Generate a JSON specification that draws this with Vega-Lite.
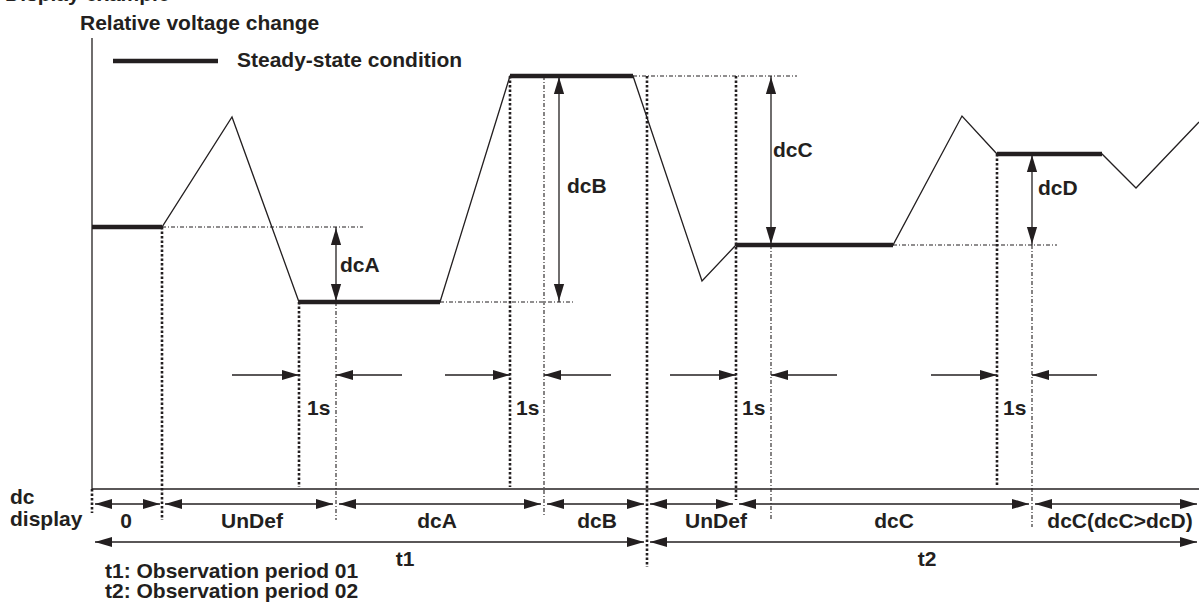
{
  "$schema": "https://vega.github.io/schema/vega-lite/v6.json",
  "width": 1199,
  "height": 605,
  "autosize": {"type": "none"},
  "padding": 0,
  "background": "white",
  "config": {"view": {"stroke": null}},
  "datasets": {
    "signal": [
      {"t": 92, "v": 227}, {"t": 162, "v": 227}, {"t": 232, "v": 117}, {"t": 299, "v": 302},
      {"t": 440, "v": 302}, {"t": 510, "v": 76}, {"t": 633, "v": 76}, {"t": 702, "v": 281},
      {"t": 736, "v": 245}, {"t": 893, "v": 245}, {"t": 962, "v": 116}, {"t": 997, "v": 154},
      {"t": 1102, "v": 154}, {"t": 1136, "v": 188}, {"t": 1199, "v": 122}
    ],
    "lines": [
      {"kind": "axis", "x": 92, "y": 38, "x2": 92, "y2": 489},
      {"kind": "axis", "x": 92, "y": 489, "x2": 1199, "y2": 489},
      {"kind": "guide", "x": 162, "y": 227, "x2": 363, "y2": 227},
      {"kind": "guide", "x": 440, "y": 302, "x2": 573, "y2": 302},
      {"kind": "guide", "x": 633, "y": 76, "x2": 797, "y2": 76},
      {"kind": "guide", "x": 893, "y": 245, "x2": 1057, "y2": 245},
      {"kind": "guide", "x": 336, "y": 302, "x2": 336, "y2": 520},
      {"kind": "guide", "x": 544, "y": 76, "x2": 544, "y2": 517},
      {"kind": "guide", "x": 771, "y": 245, "x2": 771, "y2": 520},
      {"kind": "guide", "x": 1032, "y": 245, "x2": 1032, "y2": 527},
      {"kind": "marker", "x": 92, "y": 489, "x2": 92, "y2": 513},
      {"kind": "marker", "x": 162, "y": 227, "x2": 162, "y2": 520},
      {"kind": "marker", "x": 299, "y": 302, "x2": 299, "y2": 487},
      {"kind": "marker", "x": 510, "y": 76, "x2": 510, "y2": 487},
      {"kind": "marker", "x": 647, "y": 76, "x2": 647, "y2": 567},
      {"kind": "marker", "x": 736, "y": 76, "x2": 736, "y2": 500},
      {"kind": "marker", "x": 997, "y": 154, "x2": 997, "y2": 485},
      {"kind": "arrow", "x": 336, "y": 227, "x2": 336, "y2": 302},
      {"kind": "arrow", "x": 559, "y": 76, "x2": 559, "y2": 302},
      {"kind": "arrow", "x": 771, "y": 76, "x2": 771, "y2": 245},
      {"kind": "arrow", "x": 1032, "y": 154, "x2": 1032, "y2": 245},
      {"kind": "arrow", "x": 232, "y": 375, "x2": 299, "y2": 375},
      {"kind": "arrow", "x": 336, "y": 375, "x2": 402, "y2": 375},
      {"kind": "arrow", "x": 445, "y": 375, "x2": 510, "y2": 375},
      {"kind": "arrow", "x": 544, "y": 375, "x2": 611, "y2": 375},
      {"kind": "arrow", "x": 670, "y": 375, "x2": 736, "y2": 375},
      {"kind": "arrow", "x": 771, "y": 375, "x2": 837, "y2": 375},
      {"kind": "arrow", "x": 931, "y": 375, "x2": 997, "y2": 375},
      {"kind": "arrow", "x": 1032, "y": 375, "x2": 1097, "y2": 375},
      {"kind": "arrow", "x": 95, "y": 504, "x2": 160, "y2": 504},
      {"kind": "arrow", "x": 165, "y": 504, "x2": 333, "y2": 504},
      {"kind": "arrow", "x": 339, "y": 504, "x2": 541, "y2": 504},
      {"kind": "arrow", "x": 547, "y": 504, "x2": 644, "y2": 504},
      {"kind": "arrow", "x": 650, "y": 504, "x2": 733, "y2": 504},
      {"kind": "arrow", "x": 739, "y": 504, "x2": 1029, "y2": 504},
      {"kind": "arrow", "x": 1035, "y": 504, "x2": 1197, "y2": 504},
      {"kind": "arrow", "x": 95, "y": 542, "x2": 644, "y2": 542},
      {"kind": "arrow", "x": 650, "y": 542, "x2": 1197, "y2": 542},
      {"kind": "steady", "x": 92, "y": 227, "x2": 162, "y2": 227},
      {"kind": "steady", "x": 299, "y": 302, "x2": 440, "y2": 302},
      {"kind": "steady", "x": 510, "y": 76, "x2": 633, "y2": 76},
      {"kind": "steady", "x": 736, "y": 245, "x2": 893, "y2": 245},
      {"kind": "steady", "x": 997, "y": 154, "x2": 1102, "y2": 154},
      {"kind": "steady", "x": 113, "y": 61, "x2": 218, "y2": 61}
    ],
    "heads": [
      {"x": 336, "y": 228, "dir": "up"}, {"x": 336, "y": 301, "dir": "down"},
      {"x": 559, "y": 77, "dir": "up"}, {"x": 559, "y": 301, "dir": "down"},
      {"x": 771, "y": 77, "dir": "up"}, {"x": 771, "y": 244, "dir": "down"},
      {"x": 1032, "y": 155, "dir": "up"}, {"x": 1032, "y": 244, "dir": "down"},
      {"x": 299, "y": 375, "dir": "right"}, {"x": 336, "y": 375, "dir": "left"},
      {"x": 510, "y": 375, "dir": "right"}, {"x": 544, "y": 375, "dir": "left"},
      {"x": 736, "y": 375, "dir": "right"}, {"x": 771, "y": 375, "dir": "left"},
      {"x": 997, "y": 375, "dir": "right"}, {"x": 1032, "y": 375, "dir": "left"},
      {"x": 95, "y": 504, "dir": "left"}, {"x": 160, "y": 504, "dir": "right"},
      {"x": 165, "y": 504, "dir": "left"}, {"x": 333, "y": 504, "dir": "right"},
      {"x": 339, "y": 504, "dir": "left"}, {"x": 541, "y": 504, "dir": "right"},
      {"x": 547, "y": 504, "dir": "left"}, {"x": 644, "y": 504, "dir": "right"},
      {"x": 650, "y": 504, "dir": "left"}, {"x": 733, "y": 504, "dir": "right"},
      {"x": 739, "y": 504, "dir": "left"}, {"x": 1029, "y": 504, "dir": "right"},
      {"x": 1035, "y": 504, "dir": "left"}, {"x": 1197, "y": 504, "dir": "right"},
      {"x": 95, "y": 542, "dir": "left"}, {"x": 644, "y": 542, "dir": "right"},
      {"x": 650, "y": 542, "dir": "left"}, {"x": 1197, "y": 542, "dir": "right"}
    ],
    "notes": [
      {"x": 5, "y": 0.5, "text": "Display example"},
      {"x": 80, "y": 30, "text": "Relative voltage change"},
      {"x": 237, "y": 67, "text": "Steady-state condition"},
      {"x": 340, "y": 272, "text": "dcA"},
      {"x": 567, "y": 193, "text": "dcB"},
      {"x": 773, "y": 157, "text": "dcC"},
      {"x": 1038, "y": 195, "text": "dcD"},
      {"x": 307, "y": 415, "text": "1s"},
      {"x": 516, "y": 415, "text": "1s"},
      {"x": 742, "y": 415, "text": "1s"},
      {"x": 1003, "y": 415, "text": "1s"},
      {"x": 10, "y": 504, "text": "dc"},
      {"x": 10, "y": 526, "text": "display"},
      {"x": 105, "y": 578, "text": "t1: Observation period 01"},
      {"x": 105, "y": 598, "text": "t2: Observation period 02"}
    ],
    "spans": [
      {"x": 126, "y": 528, "text": "0"},
      {"x": 252, "y": 528, "text": "UnDef"},
      {"x": 437, "y": 528, "text": "dcA"},
      {"x": 597, "y": 528, "text": "dcB"},
      {"x": 716, "y": 528, "text": "UnDef"},
      {"x": 894, "y": 528, "text": "dcC"},
      {"x": 1120, "y": 528, "text": "dcC(dcC>dcD)"},
      {"x": 405, "y": 566, "text": "t1"},
      {"x": 927, "y": 566, "text": "t2"}
    ]
  },
  "layer": [
    {
      "data": {"name": "lines"},
      "transform": [{"filter": "datum.kind === 'guide'"}],
      "mark": {"type": "rule", "color": "#231f20", "strokeWidth": 1.1, "strokeDash": [4, 2, 1, 2]},
      "encoding": {
        "x": {"field": "x", "type": "quantitative", "scale": {"domain": [0, 1199], "nice": false, "zero": false}, "axis": null},
        "y": {"field": "y", "type": "quantitative", "scale": {"domain": [0, 605], "nice": false, "zero": false, "reverse": true}, "axis": null},
        "x2": {"field": "x2"},
        "y2": {"field": "y2"}
      }
    },
    {
      "data": {"name": "lines"},
      "transform": [{"filter": "datum.kind === 'marker'"}],
      "mark": {"type": "rule", "color": "#231f20", "strokeWidth": 2.6, "strokeDash": [2.5, 2]},
      "encoding": {
        "x": {"field": "x", "type": "quantitative"},
        "y": {"field": "y", "type": "quantitative"},
        "x2": {"field": "x2"},
        "y2": {"field": "y2"}
      }
    },
    {
      "data": {"name": "lines"},
      "transform": [{"filter": "datum.kind === 'axis' || datum.kind === 'arrow'"}],
      "mark": {"type": "rule", "color": "#231f20", "strokeWidth": 1.3},
      "encoding": {
        "x": {"field": "x", "type": "quantitative"},
        "y": {"field": "y", "type": "quantitative"},
        "x2": {"field": "x2"},
        "y2": {"field": "y2"}
      }
    },
    {
      "data": {"name": "signal"},
      "mark": {"type": "line", "color": "#231f20", "strokeWidth": 1.3},
      "encoding": {
        "x": {"field": "t", "type": "quantitative"},
        "y": {"field": "v", "type": "quantitative"}
      }
    },
    {
      "data": {"name": "lines"},
      "transform": [{"filter": "datum.kind === 'steady'"}],
      "mark": {"type": "rule", "color": "#231f20", "strokeWidth": 4.5},
      "encoding": {
        "x": {"field": "x", "type": "quantitative"},
        "y": {"field": "y", "type": "quantitative"},
        "x2": {"field": "x2"},
        "y2": {"field": "y2"}
      }
    },
    {
      "data": {"name": "heads"},
      "mark": {"type": "point", "filled": true, "color": "#231f20", "opacity": 1, "size": 289, "strokeWidth": 0},
      "encoding": {
        "x": {"field": "x", "type": "quantitative"},
        "y": {"field": "y", "type": "quantitative"},
        "shape": {
          "field": "dir", "type": "nominal", "legend": null,
          "scale": {
            "domain": ["left", "right", "up", "down"],
            "range": ["M0,0L2,-0.6L2,0.6Z", "M0,0L-2,-0.6L-2,0.6Z", "M0,0L-0.6,2L0.6,2Z", "M0,0L-0.6,-2L0.6,-2Z"]
          }
        }
      }
    },
    {
      "data": {"name": "notes"},
      "mark": {"type": "text", "align": "left", "baseline": "alphabetic", "font": "Liberation Sans", "fontWeight": "bold", "fontSize": 21, "color": "#231f20"},
      "encoding": {
        "x": {"field": "x", "type": "quantitative"},
        "y": {"field": "y", "type": "quantitative"},
        "text": {"field": "text"}
      }
    },
    {
      "data": {"name": "spans"},
      "mark": {"type": "text", "align": "center", "baseline": "alphabetic", "font": "Liberation Sans", "fontWeight": "bold", "fontSize": 21, "color": "#231f20"},
      "encoding": {
        "x": {"field": "x", "type": "quantitative"},
        "y": {"field": "y", "type": "quantitative"},
        "text": {"field": "text"}
      }
    }
  ]
}
